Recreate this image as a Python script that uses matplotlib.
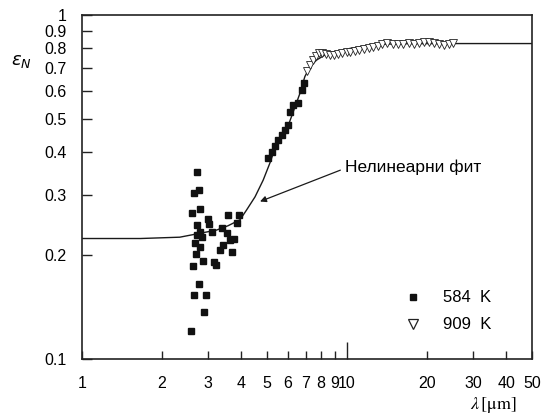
import matplotlib
matplotlib.use("Agg")
import matplotlib.pyplot as plt
from matplotlib.ticker import FixedLocator, FixedFormatter, NullLocator, NullFormatter

plt.rcParams['font.family'] = ['Liberation Sans', 'DejaVu Sans']
plt.rcParams['mathtext.fontset'] = 'stix'

# 584 K data (filled squares)
x584 = [2.71, 2.65, 2.76, 2.60, 2.80, 2.72, 2.99, 3.02, 2.79, 3.09, 2.71, 2.83,
        2.67, 2.79, 2.69, 2.87, 3.15, 3.20, 2.62, 3.55, 3.92, 3.86, 3.37, 3.52,
        3.75, 3.62, 3.40, 3.32, 3.68, 2.76, 2.65, 2.94, 2.89, 2.59,
        5.05, 5.20, 5.35, 5.51, 5.67, 5.83, 6.00, 6.10, 6.27, 6.55, 6.75, 6.90]
y584 = [0.350, 0.304, 0.309, 0.266, 0.273, 0.245, 0.255, 0.247, 0.234, 0.234, 0.229, 0.226,
        0.218, 0.212, 0.202, 0.193, 0.192, 0.188, 0.186, 0.262, 0.262, 0.249, 0.240, 0.233,
        0.224, 0.222, 0.215, 0.207, 0.205, 0.165, 0.153, 0.153, 0.137, 0.121,
        0.383, 0.401, 0.416, 0.433, 0.448, 0.463, 0.479, 0.524, 0.548, 0.554, 0.605, 0.633]

# 909 K data (open triangles)
x909 = [7.09, 7.25, 7.42, 7.62, 7.84, 8.09, 8.33, 8.63, 8.93, 9.25, 9.58, 9.97,
        10.3, 10.7, 11.1, 11.6, 12.1, 12.6, 13.1, 13.6, 14.2, 14.9, 15.6, 16.3,
        17.1, 17.9, 18.7, 19.5, 20.4, 21.3, 22.2, 23.2, 24.3, 25.2]
y909 = [0.689, 0.715, 0.740, 0.760, 0.774, 0.774, 0.769, 0.764, 0.764, 0.769, 0.774, 0.779,
        0.782, 0.788, 0.791, 0.795, 0.800, 0.805, 0.813, 0.824, 0.828, 0.822, 0.825, 0.824,
        0.828, 0.822, 0.828, 0.833, 0.835, 0.828, 0.825, 0.820, 0.822, 0.828]

# Nonlinear fit curve
xfit = [1.0, 1.66, 2.34, 3.22, 3.56, 3.95, 4.18, 4.50, 4.83, 5.12, 5.49, 6.00, 6.65,
        6.94, 7.25, 7.69, 8.26, 9.15, 10.3, 11.9, 13.7, 15.8, 24.5, 50.0]
yfit = [0.224, 0.224, 0.226, 0.237, 0.244, 0.254, 0.271, 0.296, 0.331, 0.371, 0.433, 0.476, 0.592,
        0.662, 0.707, 0.740, 0.765, 0.782, 0.800, 0.813, 0.822, 0.825, 0.826, 0.826]

xmajor = [10]
xmajor_labels = ['10']
xminor = [1, 2, 3, 4, 5, 6, 7, 8, 9, 20, 30, 40, 50]
xminor_labels = ['1', '2', '3', '4', '5', '6', '7', '8', '9', '20', '30', '40', '50']
yticks = [0.1, 0.2, 0.3, 0.4, 0.5, 0.6, 0.7, 0.8, 0.9, 1]
yticklabels = ['0.1', '0.2', '0.3', '0.4', '0.5', '0.6', '0.7', '0.8', '0.9', '1']
legend_labels = ['584  K', '909  K']
annot_text = 'Нелинеарни фит'

fig = plt.figure(figsize=(5.43, 4.17), dpi=100)
ax = fig.add_axes([82/543, 1-359/417, 450/543, 344/417])
ax.set_xscale('log')
ax.set_yscale('log')
ax.set_xlim(1, 50)
ax.set_ylim(0.1, 1)

ax.plot(xfit, yfit, color='#1a1a1a', lw=1.0, zorder=2)
ax.plot(x584, y584, ls='none', marker='s', ms=5, color='#111111', zorder=3)
ax.plot(x909, y909, ls='none', marker='v', ms=6, mfc='white', mec='#222222', mew=0.6, zorder=3)

# Legend (manual, no frame)
ax.plot([17.7], [0.151], ls='none', marker='s', ms=5, color='#111111')
ax.plot([17.8], [0.126], ls='none', marker='v', ms=6.5, mfc='white', mec='#222222', mew=0.9)
ax.text(23.0, 0.151, legend_labels[0], fontsize=12, va='center', ha='left')
ax.text(23.0, 0.126, legend_labels[1], fontsize=12, va='center', ha='left')

ax.text(9.8, 0.361, annot_text, fontsize=12.5, va='center', ha='left')
ax.annotate('', xy=(4.70, 0.287), xytext=(9.45, 0.354),
            arrowprops=dict(arrowstyle='-|>', color='#1a1a1a', lw=0.9,
                            shrinkA=0, shrinkB=0, mutation_scale=9))

# ticks
ax.xaxis.set_major_locator(FixedLocator(xmajor))
ax.xaxis.set_major_formatter(FixedFormatter(xmajor_labels))
ax.xaxis.set_minor_locator(FixedLocator(xminor))
ax.xaxis.set_minor_formatter(FixedFormatter(xminor_labels))
ax.yaxis.set_major_locator(FixedLocator(yticks))
ax.yaxis.set_major_formatter(FixedFormatter(yticklabels))
ax.yaxis.set_minor_locator(NullLocator())
ax.tick_params(axis='x', which='major', direction='in', length=12, width=1, pad=12,
               labelsize=11.5, color='#222222', top=False)
ax.tick_params(axis='x', which='minor', direction='in', length=6, width=1, pad=12,
               labelsize=11.5, color='#222222', top=False)
ax.tick_params(axis='y', which='major', direction='in', length=7, width=1, pad=11,
               labelsize=11.5, color='#222222', right=False)

for s in ax.spines.values():
    s.set_linewidth(1.2)
    s.set_color('#222222')

fig.text(21/543, 1-61/417, r'$\varepsilon_N$', fontsize=13, ha='center', va='center',
         math_fontfamily='dejavusans')
fig.text(493/543, 1-405/417, r'$\lambda\,$[μm]', fontsize=13, ha='center', va='center',
         family='STIXGeneral')

fig.savefig('out.png', dpi=100)
